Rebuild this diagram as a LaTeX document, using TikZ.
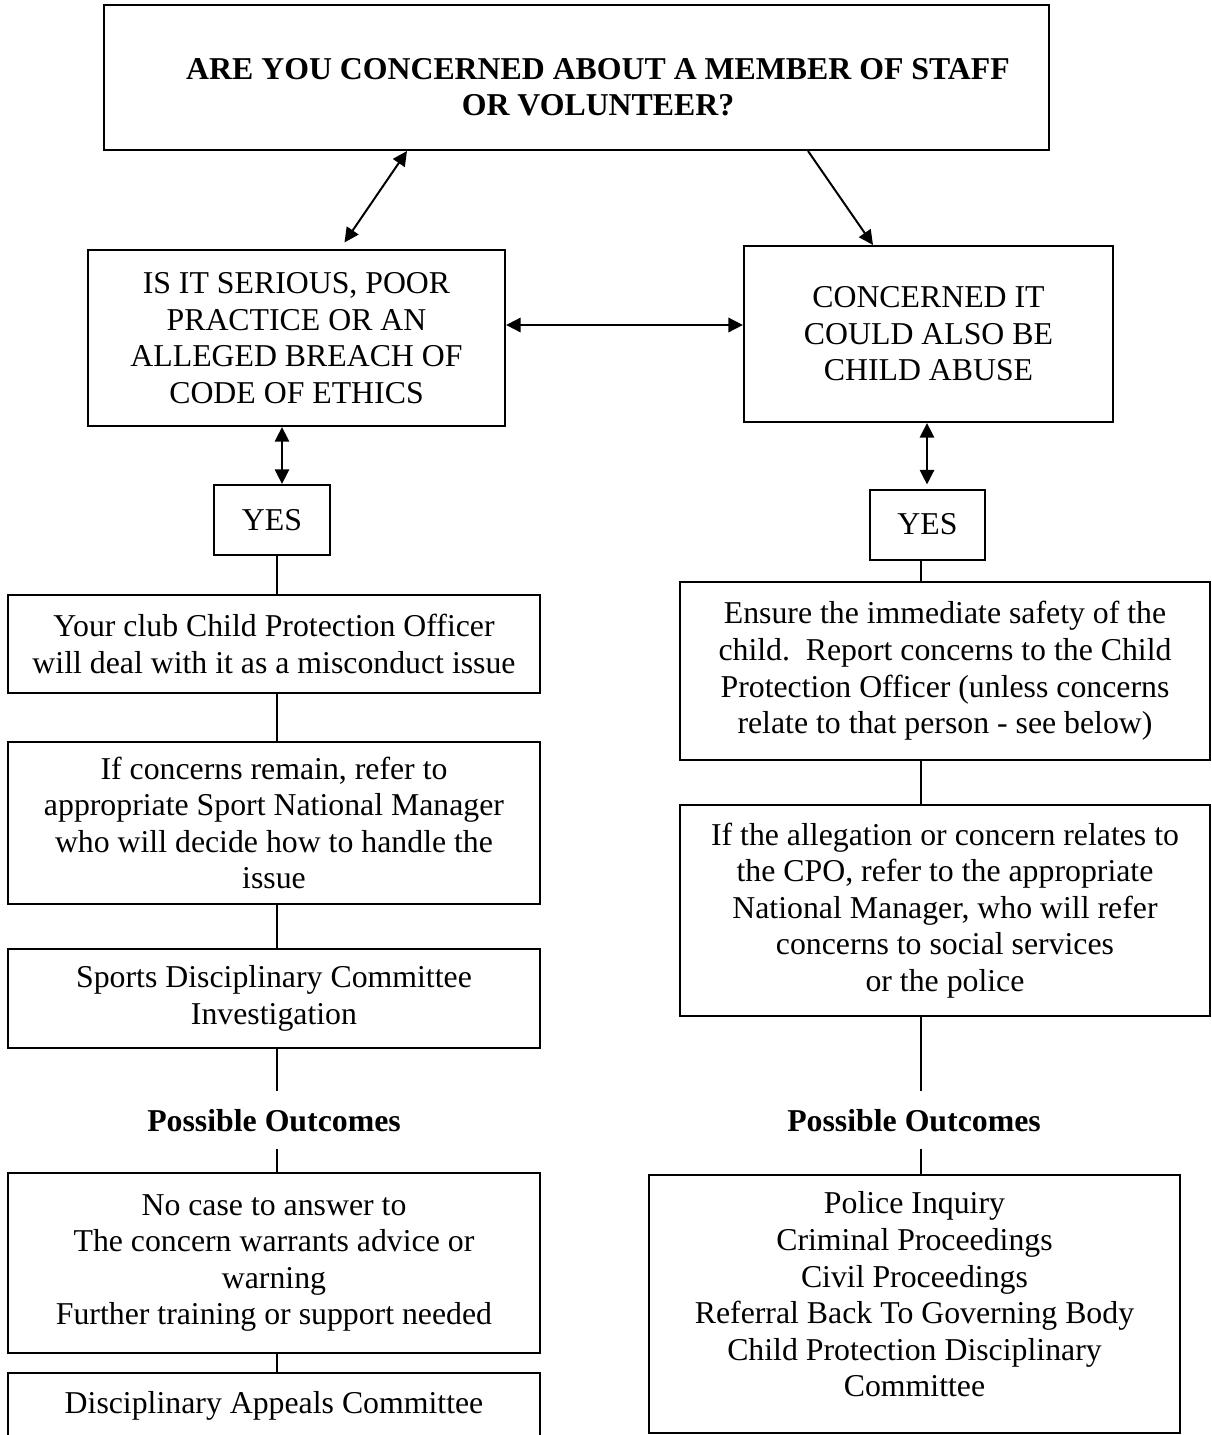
\documentclass[tikz,border=0pt]{standalone}
\usepackage{fontspec}
\setmainfont{Liberation Serif}
\usetikzlibrary{arrows.meta}
\newcommand{\pxu}{0.3774pt}

\begin{document}
\begin{tikzpicture}[x=0.3774pt,y=-0.3774pt,
  font=\fontsize{12}{13.8}\selectfont,
  >={Triangle[length=5.5pt,width=5.3pt]},
  box/.style={draw=black, line width=0.75pt, inner sep=0pt, align=center},
  heading/.style={font=\fontsize{12}{13.8}\selectfont\bfseries, inner sep=0pt, text depth=0pt, minimum height=56*\pxu},
  link/.style={line width=0.7pt}]
\fill[white] (0,0) rectangle (1211,1435);
\useasboundingbox (0,0) rectangle (1211,1435);
\clip (0,0) rectangle (1211,1435);

\node[box, minimum width=945*\pxu, minimum height=145*\pxu] (top) at (576.5,77.5) {};
\node[align=center, inner sep=0pt, font=\fontsize{12}{13.8}\selectfont\bfseries] (topq) at (598,87) {ARE YOU CONCERNED ABOUT A MEMBER OF STAFF\\OR VOLUNTEER?};

\node[box, minimum width=417*\pxu, minimum height=176*\pxu] (lq) at (296.5,338) {IS IT SERIOUS, POOR\\PRACTICE OR AN\\ALLEGED BREACH OF\\CODE OF ETHICS};
\node[box, minimum width=369*\pxu, minimum height=176*\pxu] (rq) at (928.5,334) {CONCERNED IT\\COULD ALSO BE\\CHILD ABUSE};

\node[box, minimum width=116*\pxu, minimum height=70*\pxu] (lyes) at (272,520) {YES};
\node[box, minimum width=115*\pxu, minimum height=70*\pxu] (ryes) at (927.5,524.5) {YES};

\node[box, minimum width=532*\pxu, minimum height=98*\pxu] (l1) at (274,644) {Your club Child Protection Officer\\will deal with it as a misconduct issue};
\node[box, minimum width=532*\pxu, minimum height=162*\pxu] (l2) at (274,823) {If concerns remain, refer to\\appropriate Sport National Manager\\who will decide how to handle the\\issue};
\node[box, minimum width=532*\pxu, minimum height=99*\pxu] (l3) at (274,998.5) {Sports Disciplinary Committee\\Investigation};
\node[heading] (lpo) at (274,1120) {Possible Outcomes};
\node[box, minimum width=532*\pxu, minimum height=180*\pxu] (l4) at (274,1263) {No case to answer to\\The concern warrants advice or\\warning\\Further training or support needed};
\node[box, minimum width=532*\pxu, minimum height=66*\pxu] (l5) at (274,1406) {Disciplinary Appeals Committee};

\node[box, minimum width=530*\pxu, minimum height=178*\pxu] (r1) at (945,671) {Ensure the immediate safety of the\\child.\ \ Report concerns to the Child\\Protection Officer (unless concerns\\relate to that person - see below)};
\node[box, minimum width=530*\pxu, minimum height=211*\pxu] (r2) at (945,910.5) {If the allegation or concern relates to\\the CPO, refer to the appropriate\\National Manager, who will refer\\concerns to social services\\or the police};
\node[heading] (rpo) at (914,1120) {Possible Outcomes};
\node[box, minimum width=531*\pxu, minimum height=258*\pxu] (r3) at (914.5,1304) {};
\node[align=center, inner sep=0pt] (r3q) at (914.5,1294.5) {Police Inquiry\\Criminal Proceedings\\Civil Proceedings\\Referral Back To Governing Body\\Child Protection Disciplinary\\Committee};

\coordinate (dl1) at (407,0);
\coordinate (dl2) at (340,0);
\coordinate (dr1) at (808,0);
\coordinate (dr2) at (873,0);
\coordinate (hy) at (0,325);
\coordinate (la) at (282,0);
\coordinate (ra) at (927,0);
\coordinate (lx) at (277,0);
\coordinate (rx) at (921,0);

\draw[<->, line width=0.75pt, shorten >=3pt] (top.south -| dl1) -- (lq.north -| dl2);
\draw[->, line width=0.75pt] (top.south -| dr1) -- (rq.north -| dr2);
\draw[<->, line width=1.1pt] (lq.east |- hy) -- (rq.west |- hy);
\draw[<->, line width=1pt] (lq.south -| la) -- (lyes.north -| la);
\draw[<->, line width=1pt, shorten >=1.5pt] (rq.south -| ra) -- (ryes.north -| ra);

\draw[link] (lyes.south -| lx) -- (l1.north -| lx);
\draw[link] (l1.south -| lx) -- (l2.north -| lx);
\draw[link] (l2.south -| lx) -- (l3.north -| lx);
\draw[link] (l3.south -| lx) -- (lpo.north -| lx);
\draw[link] (lpo.south -| lx) -- (l4.north -| lx);
\draw[link] (l4.south -| lx) -- (l5.north -| lx);

\draw[link] (ryes.south -| rx) -- (r1.north -| rx);
\draw[link] (r1.south -| rx) -- (r2.north -| rx);
\draw[link] (r2.south -| rx) -- (rpo.north -| rx);
\draw[link] (rpo.south -| rx) -- (r3.north -| rx);
\end{tikzpicture}
\end{document}
